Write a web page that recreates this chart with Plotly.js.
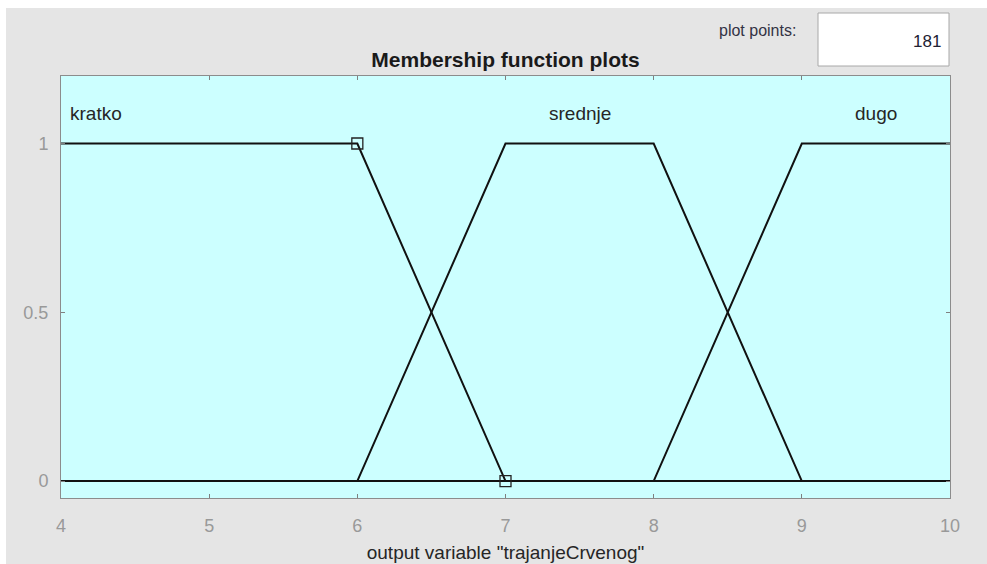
<!DOCTYPE html>
<html>
<head>
<meta charset="utf-8">
<script src="https://cdn.plot.ly/plotly-3.0.1.min.js"></script>
<style>
  html, body { margin: 0; padding: 0; background: #ffffff; width: 987px; height: 564px; overflow: hidden; }
  #chart { position: absolute; left: 6px; top: 8px; width: 981px; height: 556px; }
</style>
</head>
<body>
<div id="chart"></div>
<script>
// ---- data ----
const xTickVals = [4, 5, 6, 7, 8, 9, 10];
const yTickVals = [0, 0.5, 1];
const yTickText = ['0', '0.5', '1'];
const mfNames = ['kratko', 'srednje', 'dugo'];
const kratkoX = [4, 6, 7, 10];
const kratkoY = [1, 1, 0, 0];
const srednjeX = [4, 6, 7, 8, 9, 10];
const srednjeY = [0, 0, 1, 1, 0, 0];
const dugoX = [4, 8, 9, 10];
const dugoY = [0, 0, 1, 1];
const selectedX = [6, 7];
const selectedY = [1, 0];
const labelX = [4.05, 7.5, 9.5];
const labelY = 1.09;
const plotPoints = '181';

// ---- layout helpers (page pixel -> paper) ----
const W = 981, H = 556, L = 55, R = 37, T = 68, B = 66;
const OX = 6, OY = 8;
const pw = W - L - R, ph = H - T - B;
const px = p => (p - OX - L) / pw;
const py = p => (H - B - (p - OY)) / ph;

const lineStyle = { color: '#111111', width: 2 };
const traces = [
  { x: kratkoX, y: kratkoY, mode: 'lines', line: lineStyle, hoverinfo: 'skip', name: mfNames[0] },
  { x: srednjeX, y: srednjeY, mode: 'lines', line: lineStyle, hoverinfo: 'skip', name: mfNames[1] },
  { x: dugoX, y: dugoY, mode: 'lines', line: lineStyle, hoverinfo: 'skip', name: mfNames[2] },
  { x: selectedX, y: selectedY, mode: 'markers', hoverinfo: 'skip', cliponaxis: false,
    marker: { symbol: 'square-open', size: 11, color: '#222222', line: { width: 1.3 } } }
];

const font = 'Liberation Sans, Arial, sans-serif';
const annotations = mfNames.map((n, i) => ({
  x: labelX[i], y: labelY, xref: 'x', yref: 'y', text: n, showarrow: false,
  xanchor: i === 0 ? 'left' : 'center', yanchor: 'middle',
  font: { family: font, size: 19, color: '#262626' }
}));
annotations.push({
  x: px(798), y: py(31), xref: 'paper', yref: 'paper', text: 'plot points:', showarrow: false,
  xanchor: 'right', yanchor: 'middle', font: { family: font, size: 16, color: '#333344' }
});
annotations.push({
  x: px(943), y: py(41), xref: 'paper', yref: 'paper', text: plotPoints, showarrow: false,
  xanchor: 'right', yanchor: 'middle', font: { family: font, size: 17, color: '#222233' }
});

const layout = {
  width: W, height: H,
  paper_bgcolor: '#e5e5e5',
  plot_bgcolor: '#ccffff',
  showlegend: false,
  margin: { l: L, r: R, t: T, b: B, autoexpand: false },
  title: {
    text: 'Membership function plots', x: 0.5, xref: 'paper', xanchor: 'center',
    y: 1 - (60 - OY) / H, yref: 'container', yanchor: 'middle',
    font: { family: font, size: 21, color: '#1a1a1a', weight: 'bold' }
  },
  xaxis: {
    range: [4, 10], tickvals: xTickVals, ticks: 'inside', ticklen: 4, tickcolor: '#808080',
    showline: true, linecolor: '#8c8c8c', linewidth: 1, mirror: 'ticks',
    showgrid: false, zeroline: false, fixedrange: true, automargin: false,
    ticklabelstandoff: 11,
    tickfont: { family: font, size: 18, color: '#999999' },
    title: { text: 'output variable "trajanjeCrvenog"', standoff: 11,
             font: { family: font, size: 19, color: '#262626' } }
  },
  yaxis: {
    range: [-0.05, 1.2], tickvals: yTickVals, ticktext: yTickText, ticks: 'inside', ticklen: 4,
    tickcolor: '#808080', showline: true, linecolor: '#8c8c8c', linewidth: 1, mirror: 'ticks',
    showgrid: false, zeroline: false, fixedrange: true, automargin: false,
    ticklabelstandoff: 8,
    tickfont: { family: font, size: 18, color: '#999999' }
  },
  shapes: [{
    type: 'rect', xref: 'paper', yref: 'paper',
    x0: px(818), x1: px(949), y0: py(66), y1: py(13),
    fillcolor: '#ffffff', line: { color: '#a8a8a8', width: 1 }, layer: 'below'
  }],
  annotations: annotations
};

Plotly.newPlot('chart', traces, layout, { displayModeBar: false, staticPlot: true });
</script>
</body>
</html>
